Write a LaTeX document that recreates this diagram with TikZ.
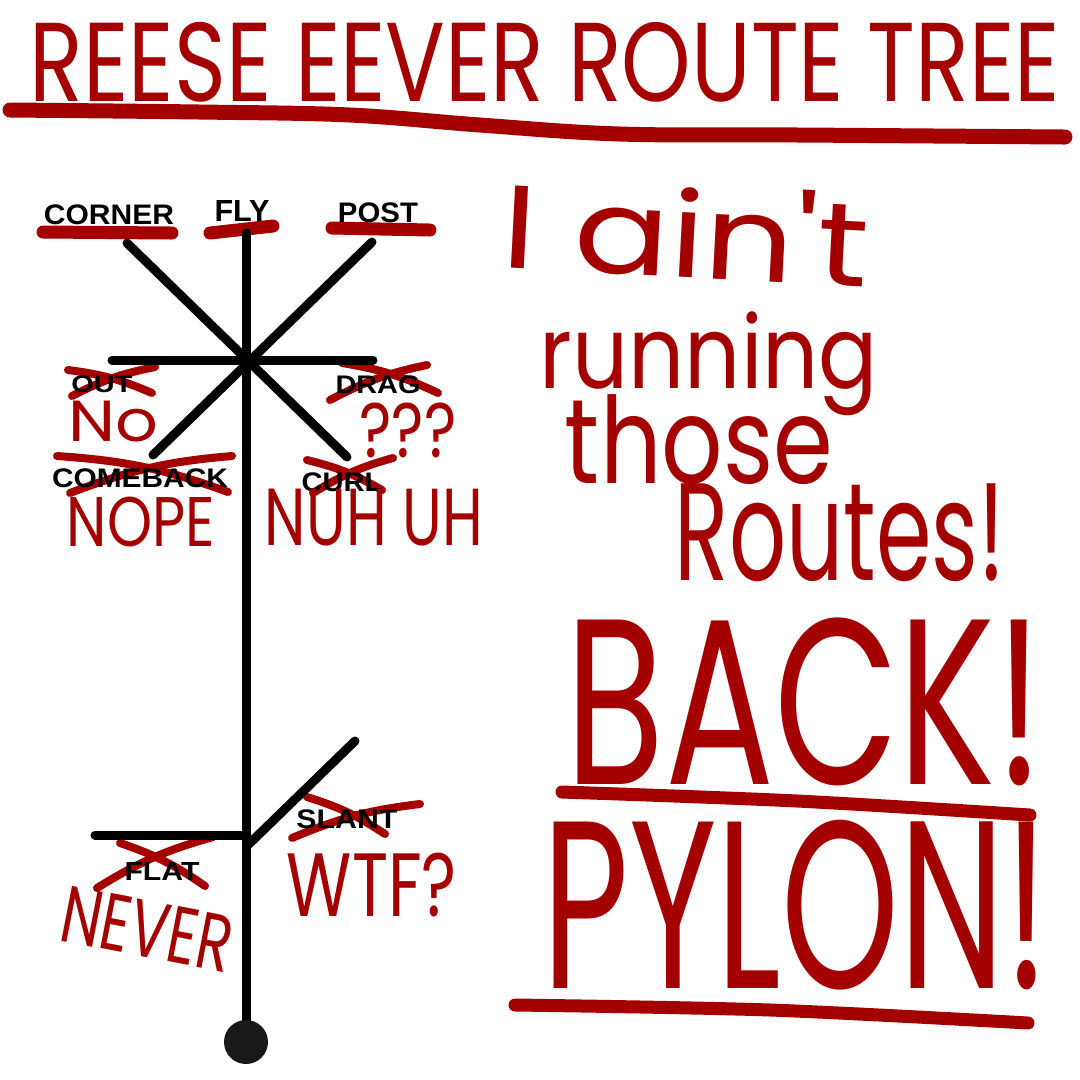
\documentclass[tikz,border=0pt]{standalone}
\usepackage{fontspec}
\usepackage{graphicx}
\setmainfont{Liberation Sans}
\newfontfamily\handfont{Poppins}
\definecolor{crayon}{RGB}{165,0,0}
\newdimen\pxu \pxu=0.1mm
\newcommand\fitbox[3]{\resizebox*{#1\pxu}{#2\pxu}{#3}}
\begin{document}
\begin{tikzpicture}[x=0.1mm,y=-0.1mm,
  route/.style={draw=black,line width=0.9mm,line cap=round},
  redline/.style={draw=crayon,line width=1.3mm,line cap=round,line join=round},
  cross/.style={draw=crayon,line width=0.8mm,line cap=round},
  lbl/.style={inner sep=0pt,font=\bfseries},
  hand/.style={inner sep=0pt,text=crayon,font=\handfont}]
\useasboundingbox (0,0) rectangle (1080,1080);
\fill[white] (0,0) rectangle (1080,1080);

% title
\node[hand] (title) at (545,62) {\fitbox{1030}{80}{REESE EEVER ROUTE TREE}};
\draw[redline,line width=1.5mm] plot[smooth,tension=0.6] coordinates {(10,110) (200,112) (350,115) (480,125) (620,134) (800,135) (1065,137)};

% red underlines of routes that are fine
\draw[redline] (43,232) -- (172,233);
\draw[redline] (210,233) -- (273,226);
\draw[redline] (332,228) -- (430,230);

% crosses
\draw[cross] (68,370) to[bend left=8] (152,393);
\draw[cross] (72,396) to[bend left=8] (155,367);
\draw[cross] (342,363) to[bend left=8] (438,393);
\draw[cross] (330,400) to[bend left=8] (427,365);
\draw[cross] (57,456) to[bend left=8] (228,492);
\draw[cross] (70,493) to[bend left=8] (232,456);
\draw[cross] (307,460) to[bend left=8] (382,490);
\draw[cross] (313,493) to[bend left=8] (393,458);
\draw[cross] (120,843) to[bend left=8] (205,886);
\draw[cross] (97,888) to[bend left=8] (213,837);
\draw[cross] (307,797) to[bend left=8] (385,834);
\draw[cross] (292,838) to[bend left=8] (420,804);

% route tree
\coordinate (top) at (247,233);
\coordinate (hub) at (247,360);
\coordinate (base) at (247,1022);
\coordinate (cornerEnd) at (127,243);
\coordinate (curlEnd) at (347,457);
\coordinate (postEnd) at (372,242);
\coordinate (comebackEnd) at (153,455);
\coordinate (outEnd) at (112,360);
\coordinate (dragEnd) at (373,360);
\coordinate (flatJ) at (247,835);
\coordinate (flatEnd) at (95,835);
\coordinate (slantJ) at (248,845);
\coordinate (slantEnd) at (355,741);
\draw[route] (top) -- (base);
\draw[route] (cornerEnd) -- (curlEnd);
\draw[route] (postEnd) -- (comebackEnd);
\draw[route] (outEnd) -- (dragEnd);
\draw[route] (flatEnd) -- (flatJ);
\draw[route] (slantJ) -- (slantEnd);
\node[circle,fill=black!90,inner sep=0pt,minimum size=4.4mm] (ball) at (246,1042) {};

% route labels
\node[lbl] (corner) at (109,215) {\fitbox{130}{20}{CORNER}};
\node[lbl] (fly) at (242,211) {\fitbox{55}{21}{FLY}};
\node[lbl] (post) at (378,213) {\fitbox{80}{20}{POST}};
\node[lbl] (out) at (102,384) {\fitbox{61}{17}{OUT}};
\node[lbl] (drag) at (378,385) {\fitbox{85}{18}{DRAG}};
\node[lbl] (comeback) at (140,478) {\fitbox{176}{19}{COMEBACK}};
\node[lbl] (curl) at (342,482) {\fitbox{81}{19}{CURL}};
\node[lbl] (flat) at (162,871) {\fitbox{75}{18}{FLAT}};
\node[lbl] (slant) at (347,819) {\fitbox{101}{19}{SLANT}};

% handwritten comments
\node[hand] (no) at (113,422) {\fitbox{90}{41}{No}};
\node[hand] (qqq) at (408,430) {\fitbox{97}{55}{???}};
\node[hand] (nope) at (141,522) {\fitbox{148}{50}{NOPE}};
\node[hand] (nuhuh) at (374,518) {\fitbox{218}{57}{NUH UH}};
\node[hand,rotate=-11] (never) at (147,929) {\fitbox{172}{56}{NEVER}};
\node[hand] (wtf) at (372,885) {\fitbox{170}{64}{WTF?}};

\node[hand,rotate=-3] (aint) at (686,231) {\fitbox{367}{95}{I ain't}};
\node[hand] (running) at (709,364) {\fitbox{338}{104}{running}};
\node[hand] (those) at (699,440) {\fitbox{268}{90}{those}};
\node[hand] (routes) at (840,533) {\fitbox{330}{98}{Routes!}};

\node[hand] (back) at (805,702) {\fitbox{478}{168}{BACK!}};
\draw[redline] plot[smooth] coordinates {(562,792) (797,801) (1030,815)};
\node[hand] (pylon) at (796,905) {\fitbox{507}{170}{PYLON!}};
\draw[redline] plot[smooth] coordinates {(515,1005) (770,1010) (1028,1023)};
\end{tikzpicture}
\end{document}
